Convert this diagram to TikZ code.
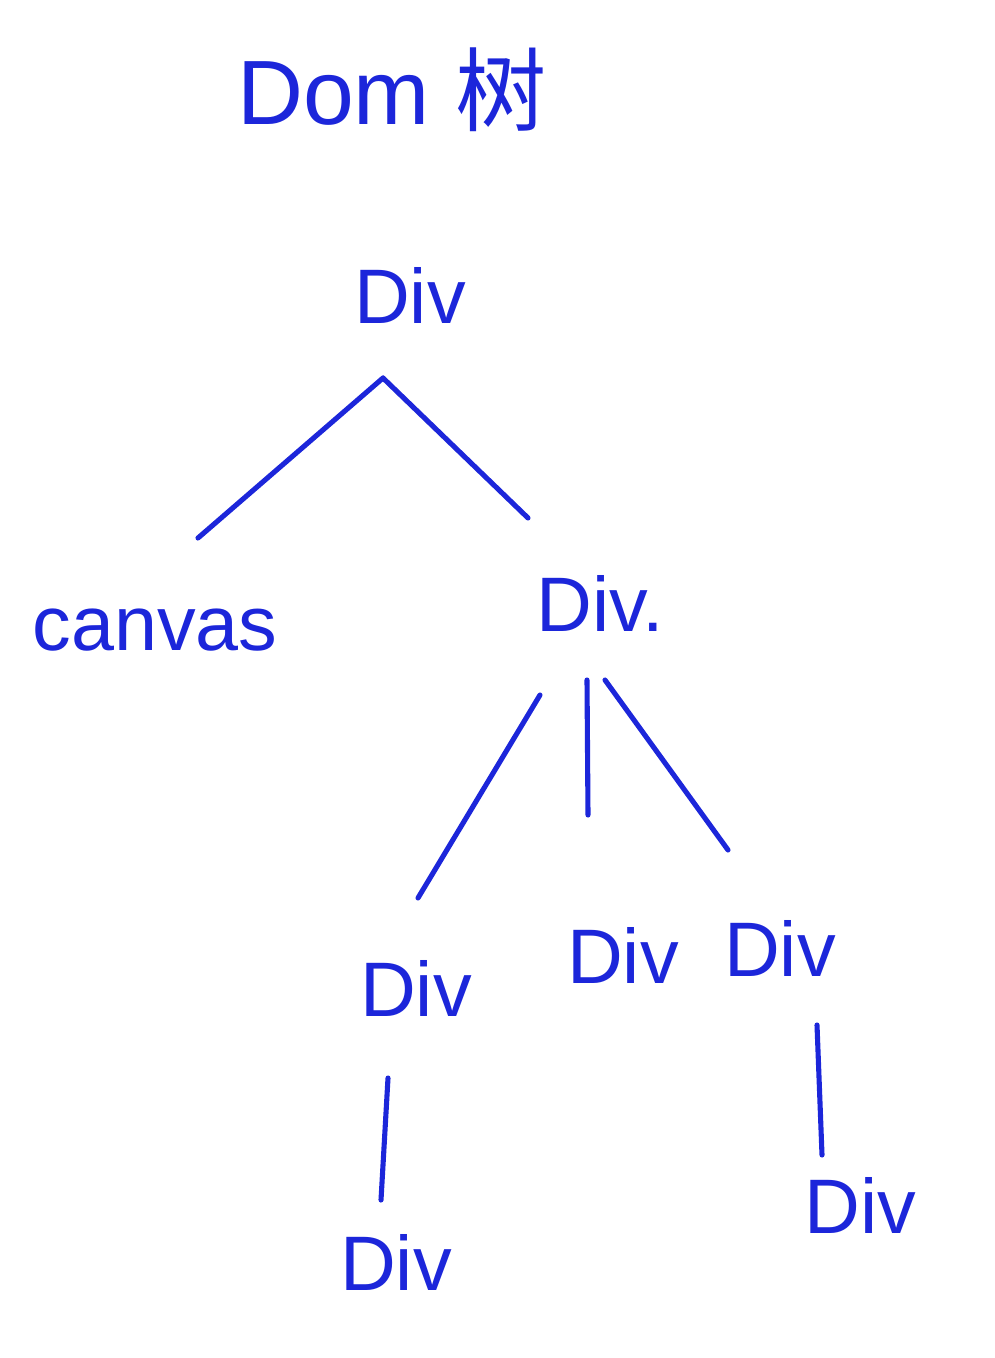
\documentclass[tikz,border=0pt]{standalone}
\usepackage{fontspec}
\setmainfont{Liberation Sans}
\newfontfamily\cjk{Noto Sans CJK SC}
\usepackage{xcolor}
\definecolor{inkblue}{RGB}{28,38,218}
\tikzset{
  tag/.style   = {text=inkblue,inner sep=0pt,font=\fontsize{44}{50}\selectfont},
  title/.style = {text=inkblue,inner sep=0pt,font=\fontsize{52}{60}\selectfont},
  edge/.style  = {draw=inkblue,line width=2.9pt,line cap=round},
}
\begin{document}
\begin{tikzpicture}[x=0.02cm,y=-0.02cm]
  \useasboundingbox (0,0) rectangle (994,1358);
  \node[title] (head) at (392,90) {Dom {\cjk 树}};
  \node[tag] (root) at (410,295) {Div};
  \node[tag] (canvas) at (155,630) {canvas};
  \node[tag] (div) at (600,603) {Div.};
  \node[tag] (divA) at (416,988) {Div};
  \node[tag] (divB) at (623,955) {Div};
  \node[tag] (divC) at (780,948) {Div};
  \node[tag] (divAA) at (396,1262) {Div};
  \node[tag] (divCC) at (860,1205) {Div};
  \draw[edge] ([shift={(-27,83)}]root.center) -- ([shift={(43,-92)}]canvas.center);
  \draw[edge] ([shift={(-27,83)}]root.center) -- ([shift={(-72,-85)}]div.center);
  \draw[edge] ([shift={(-60,92)}]div.center) -- ([shift={(2,-90)}]divA.center);
  \draw[edge] ([shift={(-13,77)}]div.center) -- ([shift={(-35,-140)}]divB.center);
  \draw[edge] ([shift={(5,77)}]div.center) -- ([shift={(-52,-98)}]divC.center);
  \draw[edge] ([shift={(-28,90)}]divA.center) -- ([shift={(-15,-62)}]divAA.center);
  \draw[edge] ([shift={(37,77)}]divC.center) -- ([shift={(-38,-50)}]divCC.center);
\end{tikzpicture}
\end{document}
